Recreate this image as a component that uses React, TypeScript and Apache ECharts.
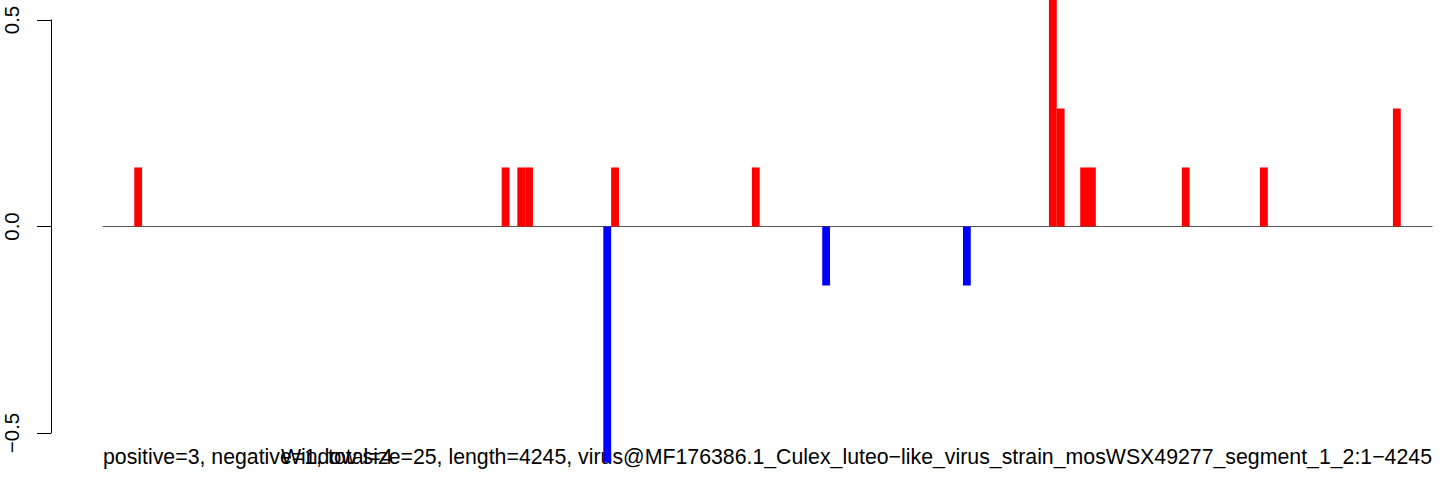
import React, { useEffect, useRef } from "react";
import * as echarts from "echarts";

const windowCount = 170;
const barWindows = [4, 51, 53, 54, 64, 65, 83, 92, 110, 121, 122, 125, 126, 138, 148, 165];
const barValues = [0.1429, 0.1429, 0.1429, 0.1429, -0.5714, 0.1429, 0.1429, -0.1429, -0.1429, 0.5714, 0.2857, 0.1429, 0.1429, 0.1429, 0.1429, 0.2857];
const yTicks = [-0.5, 0, 0.5];
const leftNote = "positive=3, negative=1, total=4";
const rightNote = "Window size=25, length=4245, virus@MF176386.1_Culex_luteo\u2212like_virus_strain_mosWSX49277_segment_1_2:1\u22124245";

export default function App() {
  const ref = useRef<HTMLDivElement>(null);
  useEffect(() => {
    if (!ref.current) return;
    const chart = echarts.init(ref.current, undefined, { renderer: "svg" });
    const categories = Array.from({ length: windowCount }, (_, i) => String(i + 1));
    const values: (number | null)[] = new Array(windowCount).fill(null);
    barWindows.forEach((w, i) => {
      values[w] = barValues[i];
    });
    const font = "'Liberation Sans', Arial, Helvetica, sans-serif";
    chart.setOption({
      animation: false,
      backgroundColor: "#ffffff",
      grid: { left: 103, right: 12, top: 20, bottom: 54, containLabel: false },
      xAxis: {
        type: "category",
        data: categories,
        boundaryGap: true,
        axisLine: { show: true, onZero: true, lineStyle: { color: "#555555", width: 1 } },
        axisTick: { show: false },
        axisLabel: { show: false },
        splitLine: { show: false },
      },
      yAxis: {
        type: "value",
        min: -0.5,
        max: 0.5,
        interval: 0.5,
        offset: 52,
        axisLine: { show: true, lineStyle: { color: "#000000", width: 1 } },
        axisTick: { show: true, length: 14, lineStyle: { color: "#000000", width: 1 } },
        splitLine: { show: false },
        axisLabel: {
          show: true,
          rotate: 90,
          margin: 29,
          fontSize: 20.5,
          fontFamily: font,
          color: "#000000",
          customValues: yTicks,
          formatter: (v: number) => v.toFixed(1).replace("-", "\u2212"),
        },
      },
      series: [
        {
          type: "bar",
          data: values.map((v) =>
            v === null ? null : { value: v, itemStyle: { color: v >= 0 ? "#ff0000" : "#0000ff" } }
          ),
          barWidth: "100%",
          barCategoryGap: "0%",
          clip: false,
          z: 1,
        },
      ],
      graphic: [
        {
          type: "text",
          left: 103,
          top: 446,
          style: { text: leftNote, font: `21.3px ${font}`, fill: "#000000" },
          silent: true,
        },
        {
          type: "text",
          right: 12,
          top: 446,
          style: { text: rightNote, font: `21.3px ${font}`, fill: "#000000" },
          silent: true,
        },
      ],
    });
    return () => chart.dispose();
  }, []);
  return (
    <div
      ref={ref}
      style={{ position: "absolute", left: 0, top: 0, width: 1444, height: 487 }}
    />
  );
}
